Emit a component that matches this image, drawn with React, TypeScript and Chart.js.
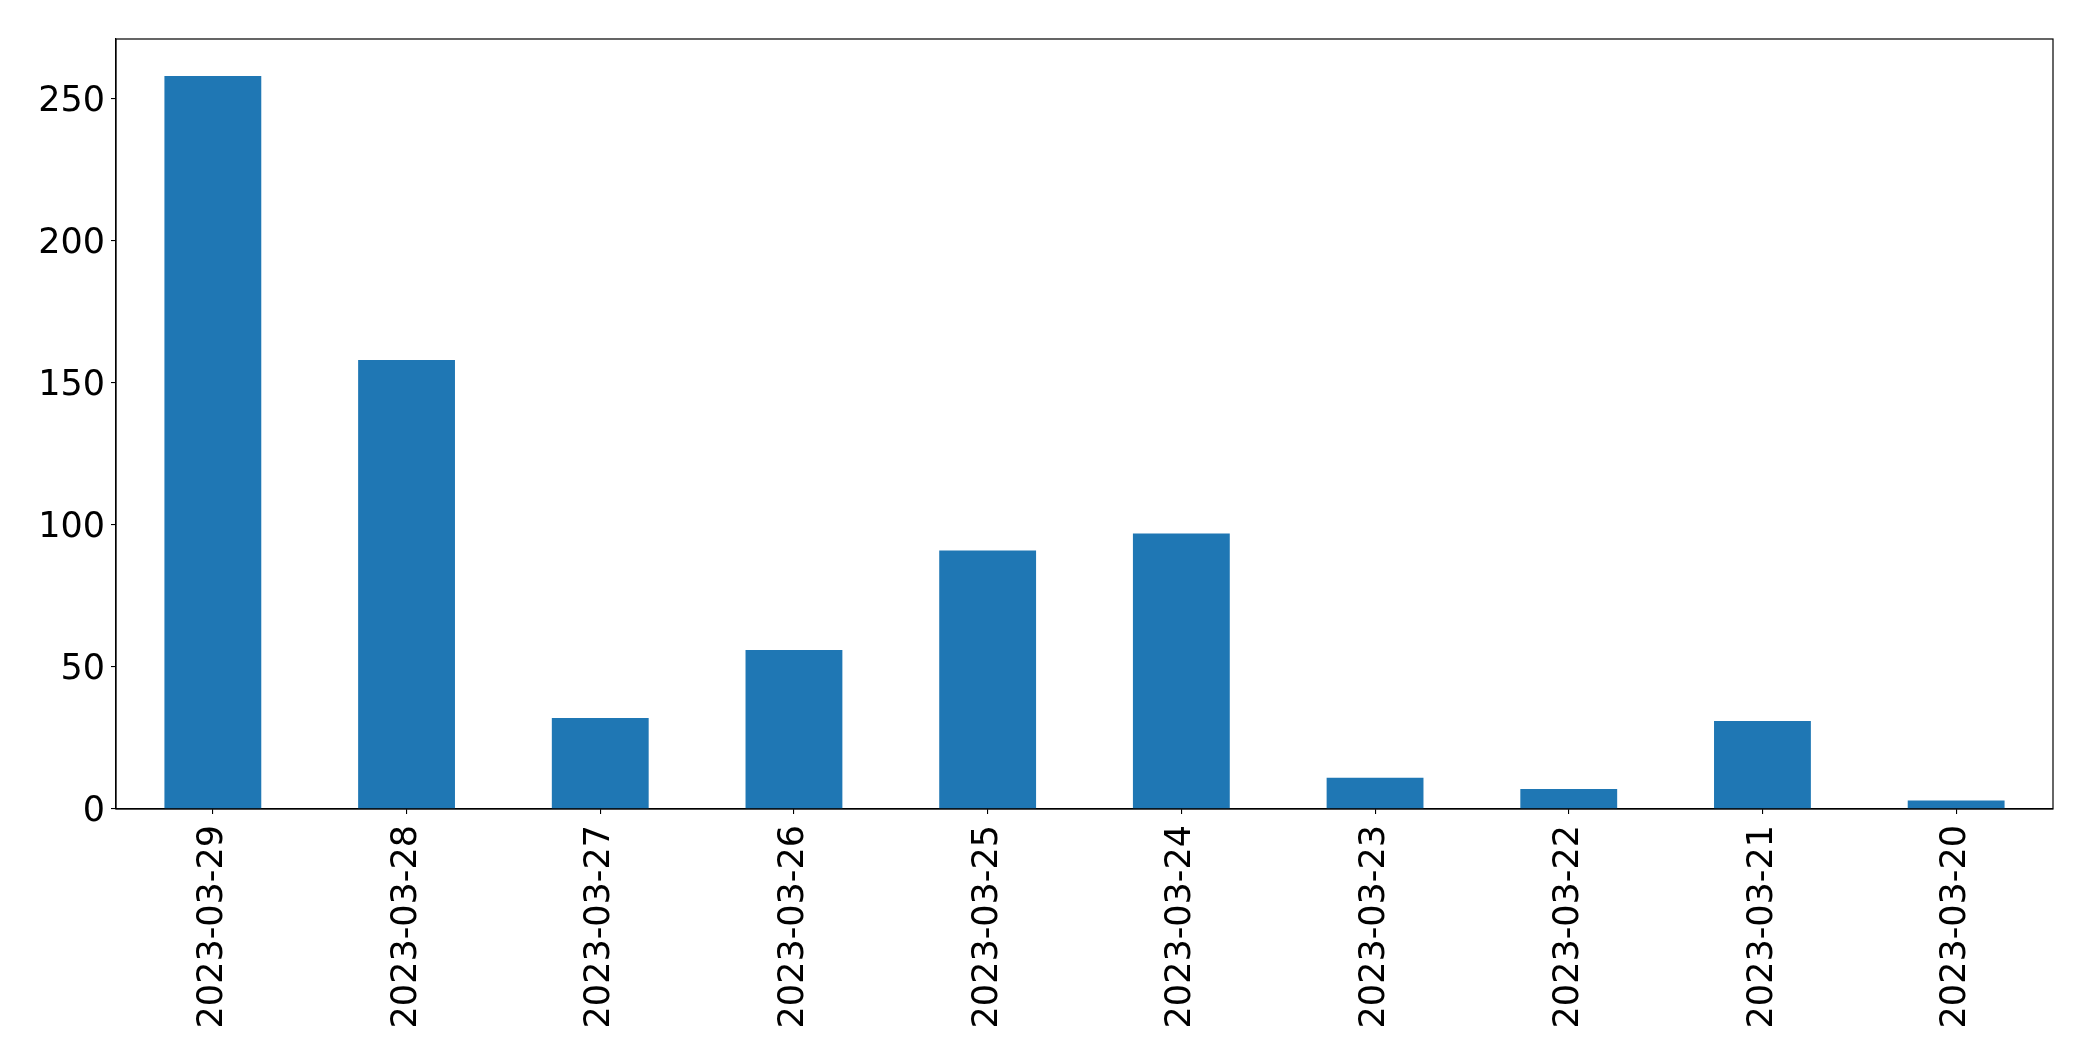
import React, { useEffect, useRef } from "react";
import { Chart, registerables } from "chart.js";

Chart.register(...registerables);

const categories = [
  "2023-03-29",
  "2023-03-28",
  "2023-03-27",
  "2023-03-26",
  "2023-03-25",
  "2023-03-24",
  "2023-03-23",
  "2023-03-22",
  "2023-03-21",
  "2023-03-20",
];
const counts = [258, 158, 32, 56, 91, 97, 11, 7, 31, 3];
const yTicks = [0, 50, 100, 150, 200, 250];
const yMax = 271;

const W = 2093;
const H = 1061;
const FONT = "'DejaVu Sans', sans-serif";

const framePlugin = {
  id: "frame",
  afterDraw(chart: any) {
    const { ctx, chartArea } = chart;
    ctx.save();
    ctx.strokeStyle = "#000";
    ctx.lineWidth = 1.2;
    ctx.strokeRect(chartArea.left, chartArea.top, chartArea.right - chartArea.left, chartArea.bottom - chartArea.top);
    ctx.restore();
  },
};

export default function App() {
  const ref = useRef<HTMLCanvasElement | null>(null);
  useEffect(() => {
    if (!ref.current) return;
    const chart = new Chart(ref.current, {
      type: "bar",
      data: {
        labels: categories,
        datasets: [
          {
            data: counts,
            backgroundColor: "#1f77b4",
            borderWidth: 0,
            barPercentage: 0.5,
            categoryPercentage: 1,
          },
        ],
      },
      plugins: [framePlugin],
      options: {
        responsive: false,
        animation: false,
        devicePixelRatio: 1,
        layout: { padding: { left: 0, top: 39, right: 40, bottom: 0 } },
        plugins: { legend: { display: false }, tooltip: { enabled: false }, title: { display: false } },
        scales: {
          x: {
            offset: true,
            grid: { display: true, offset: false, drawOnChartArea: false, drawTicks: true, tickLength: 5, color: "#000", lineWidth: 1.1 },
            border: { display: true, color: "#000", width: 1.2 },
            ticks: {
              maxRotation: 90,
              minRotation: 90,
              autoSkip: false,
              padding: 11,
              color: "#000",
              font: { family: FONT, size: 35 },
            },
            afterFit(scale: any) {
              scale.height = H - 809;
            },
          },
          y: {
            min: 0,
            max: yMax,
            grid: { display: true, drawOnChartArea: false, drawTicks: true, tickLength: 5, color: "#000", lineWidth: 1.1 },
            border: { display: true, color: "#000", width: 1.2 },
            ticks: {
              padding: 6,
              labelOffset: 3,
              color: "#000",
              font: { family: FONT, size: 35 },
            },
            afterBuildTicks(scale: any) {
              scale.ticks = yTicks.map((v) => ({ value: v }));
            },
            afterFit(scale: any) {
              scale.width = 116;
            },
          },
        },
      },
    });
    return () => chart.destroy();
  }, []);
  return (
    <div style={{ position: "fixed", left: 0, top: 0, width: W, height: H, background: "#fff" }}>
      <canvas ref={ref} width={W} height={H} style={{ width: W, height: H, display: "block" }} />
    </div>
  );
}
